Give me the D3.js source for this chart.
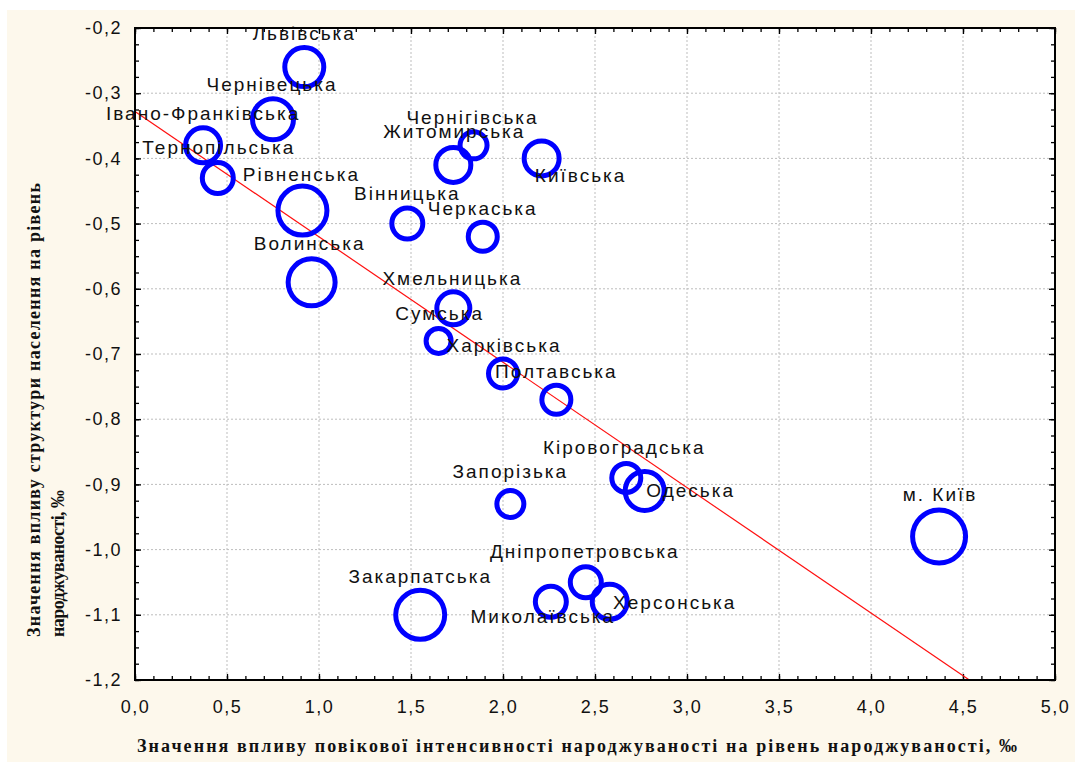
<style>body { margin: 0; } svg { display: block; }</style>
<script src="https://d3js.org/d3.v7.min.js"></script>
<svg width=1075 height=762></svg>
<script>
// regions of Ukraine
const regions = ["Львівська", "Чернівецька", "Івано-Франківська", "Тернопільська", "Рівненська",
  "Волинська", "Чернігівська", "Житомирська", "Київська", "Вінницька", "Черкаська",
  "Хмельницька", "Сумська", "Харківська", "Полтавська", "Кіровоградська", "Одеська",
  "Запорізька", "м. Київ", "Дніпропетровська", "Закарпатська", "Миколаївська", "Херсонська"]
// effect of age-specific fertility intensity, ‰
const xVals = [0.92, 0.75, 0.37, 0.45, 0.91, 0.96, 1.84, 1.73, 2.21, 1.48, 1.89,
  1.73, 1.65, 2.00, 2.29, 2.67, 2.77, 2.04, 4.37, 2.45, 1.55, 2.26, 2.58]
// effect of population structure, ‰
const yVals = [-0.26, -0.34, -0.38, -0.43, -0.48, -0.59, -0.38, -0.41, -0.40, -0.50, -0.52,
  -0.63, -0.68, -0.73, -0.77, -0.89, -0.91, -0.93, -0.98, -1.05, -1.10, -1.08, -1.08]
// bubble size (relative)
const sizes = [22, 23, 20, 18, 27, 26, 16, 20, 20, 18, 17,
  19, 15, 17, 17, 17, 22, 16, 29, 18, 27, 18, 20]
const xTicks = [0, 0.5, 1, 1.5, 2, 2.5, 3, 3.5, 4, 4.5, 5]
const yTicks = [-0.2, -0.3, -0.4, -0.5, -0.6, -0.7, -0.8, -0.9, -1.0, -1.1, -1.2]
// fitted line y = a + b*x
const fitA = -0.328
const fitB = -0.1923

// label offsets (px) from bubble centre, default is above
const labelOff = {
  "Львівська": [0, -34], "Чернівецька": [-1, -35], "Івано-Франківська": [0, -32],
  "Тернопільська": [1, -30], "Рівненська": [-1, -36], "Волинська": [-2, -39],
  "Чернігівська": [-1, -28], "Житомирська": [1, -33], "Київська": [39, 17],
  "Вінницька": [0, -30], "Черкаська": [0, -28], "Хмельницька": [-1, -30],
  "Сумська": [1, -27], "Харківська": [1, -28], "Полтавська": [0, -28],
  "Кіровоградська": [-2, -30], "Одеська": [46, 0], "Запорізька": [0, -32],
  "м. Київ": [1, -42], "Дніпропетровська": [-1, -31], "Закарпатська": [0, -38],
  "Миколаївська": [-8, 15], "Херсонська": [65, 1]
}

const data = regions.map((r, i) => ({name: r, x: xVals[i], y: yVals[i], s: sizes[i]}))

const svg = d3.select("svg")
const pL = 135, pR = 1055, pT = 28, pB = 680

const loc = d3.formatLocale({decimal: ",", thousands: " ", grouping: [3], currency: ["", ""], minus: "-"})
const fmt = loc.format(".1f")

const x = d3.scaleLinear().domain([0, 5]).range([pL, pR])
const y = d3.scaleLinear().domain([-1.2, -0.2]).range([pB, pT])
const r = d3.scaleLinear().domain([0, d3.max(sizes)]).range([0, 29])

svg.append("rect").attr("width", 1075).attr("height", 762).attr("fill", "#fff")
svg.append("rect").attr("x", 7).attr("y", 10).attr("width", 1068).attr("height", 752).attr("fill", "#fdf8ec")
svg.append("rect").attr("x", pL).attr("y", pT).attr("width", pR - pL).attr("height", pB - pT)
  .attr("fill", "#fff")

const defs = svg.append("defs")
defs.append("clipPath").attr("id", "clip")
  .append("rect").attr("x", pL).attr("y", pT).attr("width", pR - pL).attr("height", pB - pT)

// grid
const grid = svg.append("g").attr("stroke", "#bdbdbd").attr("stroke-dasharray", "2,2").attr("stroke-width", 1)
grid.selectAll(".gx").data(xTicks.slice(1, -1)).join("line")
  .attr("x1", d => x(d)).attr("x2", d => x(d)).attr("y1", pT).attr("y2", pB)
grid.selectAll(".gy").data(yTicks.slice(1, -1)).join("line")
  .attr("y1", d => y(d)).attr("y2", d => y(d)).attr("x1", pL).attr("x2", pR)

// minor + major ticks on all four sides, pointing in
const xMinor = d3.range(0, 50.5, 1).map(d => d / 10)
const yMinor = d3.range(-48, -7.5, 1).map(d => d / 40)
function tickAxis(axis, ticks, size, tr) {
  svg.append("g").attr("transform", tr)
    .call(axis.tickValues(ticks).tickSize(size).tickFormat(""))
    .call(g => g.select(".domain").remove())
    .call(g => g.selectAll("line").attr("stroke", "#000").attr("stroke-width", 1.3))
}
tickAxis(d3.axisBottom(x), xMinor, -4, `translate(0,${pB})`)
tickAxis(d3.axisTop(x), xMinor, -4, `translate(0,${pT})`)
tickAxis(d3.axisLeft(y), yMinor, -4, `translate(${pL},0)`)
tickAxis(d3.axisRight(y), yMinor, -4, `translate(${pR},0)`)
tickAxis(d3.axisBottom(x), xTicks, -6, `translate(0,${pB})`)
tickAxis(d3.axisTop(x), xTicks, -6, `translate(0,${pT})`)
tickAxis(d3.axisLeft(y), yTicks, -6, `translate(${pL},0)`)
tickAxis(d3.axisRight(y), yTicks, -6, `translate(${pR},0)`)

// tick labels
svg.append("g").attr("transform", `translate(0,${pB})`)
  .call(d3.axisBottom(x).tickValues(xTicks).tickSize(0).tickPadding(33).tickFormat(fmt))
  .call(g => g.select(".domain").remove())
  .call(g => g.selectAll("text").attr("font-family", "Liberation Sans, Arial, sans-serif")
    .attr("font-size", 18).attr("fill", "#111").attr("letter-spacing", 1.5).attr("dy", 0))
svg.append("g").attr("transform", `translate(${pL},0)`)
  .call(d3.axisLeft(y).tickValues(yTicks).tickSize(0).tickPadding(13).tickFormat(fmt))
  .call(g => g.select(".domain").remove())
  .call(g => g.selectAll("text").attr("font-family", "Liberation Sans, Arial, sans-serif")
    .attr("font-size", 18).attr("fill", "#111").attr("letter-spacing", 1.5))

// regression line
const plot = svg.append("g").attr("clip-path", "url(#clip)")
plot.append("line")
  .attr("x1", x(0)).attr("y1", y(fitA))
  .attr("x2", x(5)).attr("y2", y(fitA + fitB * 5))
  .attr("stroke", "#ff1010").attr("stroke-width", 1.2)

// bubbles
plot.selectAll("circle").data(data).join("circle")
  .attr("cx", d => x(d.x)).attr("cy", d => y(d.y)).attr("r", d => r(d.s) - 2.5)
  .attr("fill", "none").attr("stroke", "#0000ff").attr("stroke-width", 5)

// labels
svg.append("g").selectAll("text").data(data).join("text")
  .attr("x", d => x(d.x) + (labelOff[d.name] || [0, -30])[0])
  .attr("y", d => y(d.y) + (labelOff[d.name] || [0, -30])[1])
  .attr("text-anchor", "middle").attr("dominant-baseline", "central")
  .attr("font-family", "Liberation Sans, Arial, sans-serif").attr("font-size", 19)
  .attr("letter-spacing", 2).attr("fill", "#111")
  .text(d => d.name)

// frame
svg.append("rect").attr("x", pL).attr("y", pT).attr("width", pR - pL).attr("height", pB - pT)
  .attr("fill", "none").attr("stroke", "#000").attr("stroke-width", 2)

// axis titles
const titleFont = "Liberation Serif, Times New Roman, serif"
svg.append("text").attr("x", 137).attr("y", 752)
  .attr("font-family", titleFont).attr("font-weight", "bold").attr("font-size", 18).attr("fill", "#111")
  .attr("textLength", 880).attr("lengthAdjust", "spacing")
  .text("Значення впливу повікової інтенсивності народжуваності на рівень народжуваності, ‰")
svg.append("text").attr("transform", "translate(40,637) rotate(-90)")
  .attr("font-family", titleFont).attr("font-weight", "bold").attr("font-size", 18).attr("fill", "#111")
  .attr("textLength", 454).attr("lengthAdjust", "spacing")
  .text("Значення впливу структури населення на рівень")
svg.append("text").attr("transform", "translate(64,637) rotate(-90)")
  .attr("font-family", titleFont).attr("font-weight", "bold").attr("font-size", 18).attr("fill", "#111")
  .attr("textLength", 147).attr("lengthAdjust", "spacing")
  .text("народжуваності, ‰")
</script>
